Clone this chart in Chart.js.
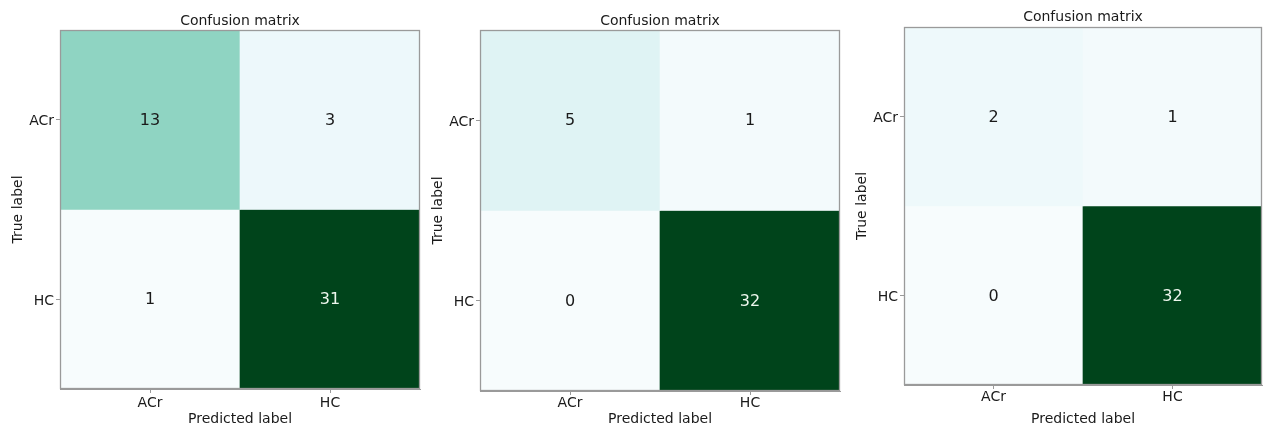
<!DOCTYPE html>
<html>
<head>
<meta charset="utf-8">
<script src="https://cdn.jsdelivr.net/npm/chart.js@4.4.0/dist/chart.umd.min.js"></script>
<style>
  html, body { margin: 0; padding: 0; background: #ffffff; }
  body { width: 1263px; height: 428px; position: relative; overflow: hidden; }
  canvas { position: absolute; top: 0; }
</style>
</head>
<body>
<canvas id="c1" width="430" height="428" style="left:0px"></canvas>
<canvas id="c2" width="430" height="428" style="left:420px"></canvas>
<canvas id="c3" width="423" height="428" style="left:840px"></canvas>
<script>
// ---- data ----
const predictedLabels = ['ACr', 'HC'];
const trueLabels = ['ACr', 'HC'];
const chartTitle = 'Confusion matrix';
const xAxisTitle = 'Predicted label';
const yAxisTitle = 'True label';
const matrix1 = [[13, 3], [1, 31]];
const matrix2 = [[5, 1], [0, 32]];
const matrix3 = [[2, 1], [0, 32]];

// ---- styles ----
const FONT = "'DejaVu Sans', sans-serif";
const FRAME = '#9a9a9a';
const TEXT = '#1a1a1a';
const BUGN = ['#f7fcfd', '#e5f5f9', '#ccece6', '#99d8c9', '#66c2a4', '#41ae76', '#238b45', '#006d2c', '#00441b'];

function hexToRgb(h) {
  return [parseInt(h.slice(1, 3), 16), parseInt(h.slice(3, 5), 16), parseInt(h.slice(5, 7), 16)];
}
function bugn(t) {
  t = Math.max(0, Math.min(1, t));
  const p = t * (BUGN.length - 1);
  const i = Math.min(Math.floor(p), BUGN.length - 2);
  const f = p - i;
  const a = hexToRgb(BUGN[i]), b = hexToRgb(BUGN[i + 1]);
  const c = a.map((v, k) => Math.round(v + (b[k] - v) * f));
  return 'rgb(' + c.join(',') + ')';
}

const cellTextPlugin = {
  id: 'cellText',
  afterDatasetsDraw(chart) {
    const ctx = chart.ctx;
    const ca = chart.chartArea;
    ctx.save();
    ctx.font = '16px ' + FONT;
    ctx.textAlign = 'center';
    ctx.textBaseline = 'middle';
    chart.data.datasets.forEach((ds, di) => {
      const meta = chart.getDatasetMeta(di);
      meta.data.forEach((el, i) => {
        const v = ds.cellValues[i];
        ctx.fillStyle = v > ds.thresh ? '#eef7ee' : TEXT;
        ctx.fillText(String(v), el.x, (el.y + el.base) / 2 + 1);
      });
    });
    ctx.strokeStyle = FRAME;
    ctx.lineWidth = 1.3;
    ctx.strokeRect(Math.round(ca.left) + 0.5, Math.round(ca.top) + 0.5,
                   Math.round(ca.right - ca.left) - 1, Math.round(ca.bottom - ca.top) - 1);
    ctx.restore();
  }
};

function makeChart(id, matrix, L) {
  const flat = matrix.flat();
  const vmin = Math.min(...flat), vmax = Math.max(...flat);
  const thresh = (vmax + vmin) / 2;
  const datasets = trueLabels.map((t, r) => ({
    label: t,
    data: predictedLabels.map(() => [r - 0.5, r + 0.5]),
    cellValues: matrix[r],
    thresh: thresh,
    backgroundColor: matrix[r].map(v => bugn((v - vmin) / (vmax - vmin))),
    borderWidth: 0,
    borderSkipped: false,
    grouped: false,
    barPercentage: 1,
    categoryPercentage: 1
  }));
  return new Chart(document.getElementById(id), {
    type: 'bar',
    data: { labels: predictedLabels, datasets: datasets },
    plugins: [cellTextPlugin],
    options: {
      responsive: false,
      animation: false,
      events: [],
      layout: { padding: { left: 0, top: 0, right: L.right, bottom: 0 } },
      plugins: {
        legend: { display: false },
        tooltip: { enabled: false },
        title: {
          display: true, text: chartTitle, color: TEXT, fullSize: false,
          font: { family: FONT, size: 14, weight: 'normal' },
          padding: { top: L.titleTop, bottom: L.titleBottom }
        }
      },
      scales: {
        x: {
          type: 'category',
          offset: true,
          grid: { display: true, offset: false, drawOnChartArea: false, drawTicks: true, tickLength: 4, color: FRAME },
          border: { display: true, color: FRAME, width: 1 },
          ticks: { color: TEXT, font: { family: FONT, size: 14 }, padding: L.xTickPad, maxRotation: 0 },
          title: { display: true, text: xAxisTitle, color: TEXT,
                   font: { family: FONT, size: 14 }, padding: { top: L.xTitlePad, bottom: 0 } },
          afterFit: s => { s.height = L.xHeight; }
        },
        y: {
          type: 'linear',
          min: -0.5, max: 1.5, reverse: true,
          afterBuildTicks: s => { s.ticks = trueLabels.map((_, i) => ({ value: i })); },
          grid: { display: true, drawOnChartArea: false, drawTicks: true, tickLength: 4, color: FRAME },
          border: { display: true, color: FRAME, width: 1 },
          ticks: { color: TEXT, font: { family: FONT, size: 14 }, padding: 2, labelOffset: 2,
                   callback: v => trueLabels[v] },
          title: { display: true, text: yAxisTitle, color: TEXT,
                   font: { family: FONT, size: 14 }, padding: { top: L.yTitlePad, bottom: 0 } },
          afterFit: s => { s.width = L.yWidth; }
        }
      }
    }
  });
}

makeChart('c1', matrix1, { right: 10, titleTop: 12.6, titleBottom: 0.6, xHeight: 39, xTickPad: 2, xTitlePad: 2.6, yWidth: 60, yTitlePad: 9.6 });
makeChart('c2', matrix2, { right: 10, titleTop: 12.6, titleBottom: 0.6, xHeight: 37, xTickPad: 0, xTitlePad: 2.6, yWidth: 60, yTitlePad: 9.6 });
makeChart('c3', matrix3, { right: 1, titleTop: 8.6, titleBottom: 1.6, xHeight: 43, xTickPad: 0, xTitlePad: 6.6, yWidth: 64, yTitlePad: 13.6 });
</script>
</body>
</html>
